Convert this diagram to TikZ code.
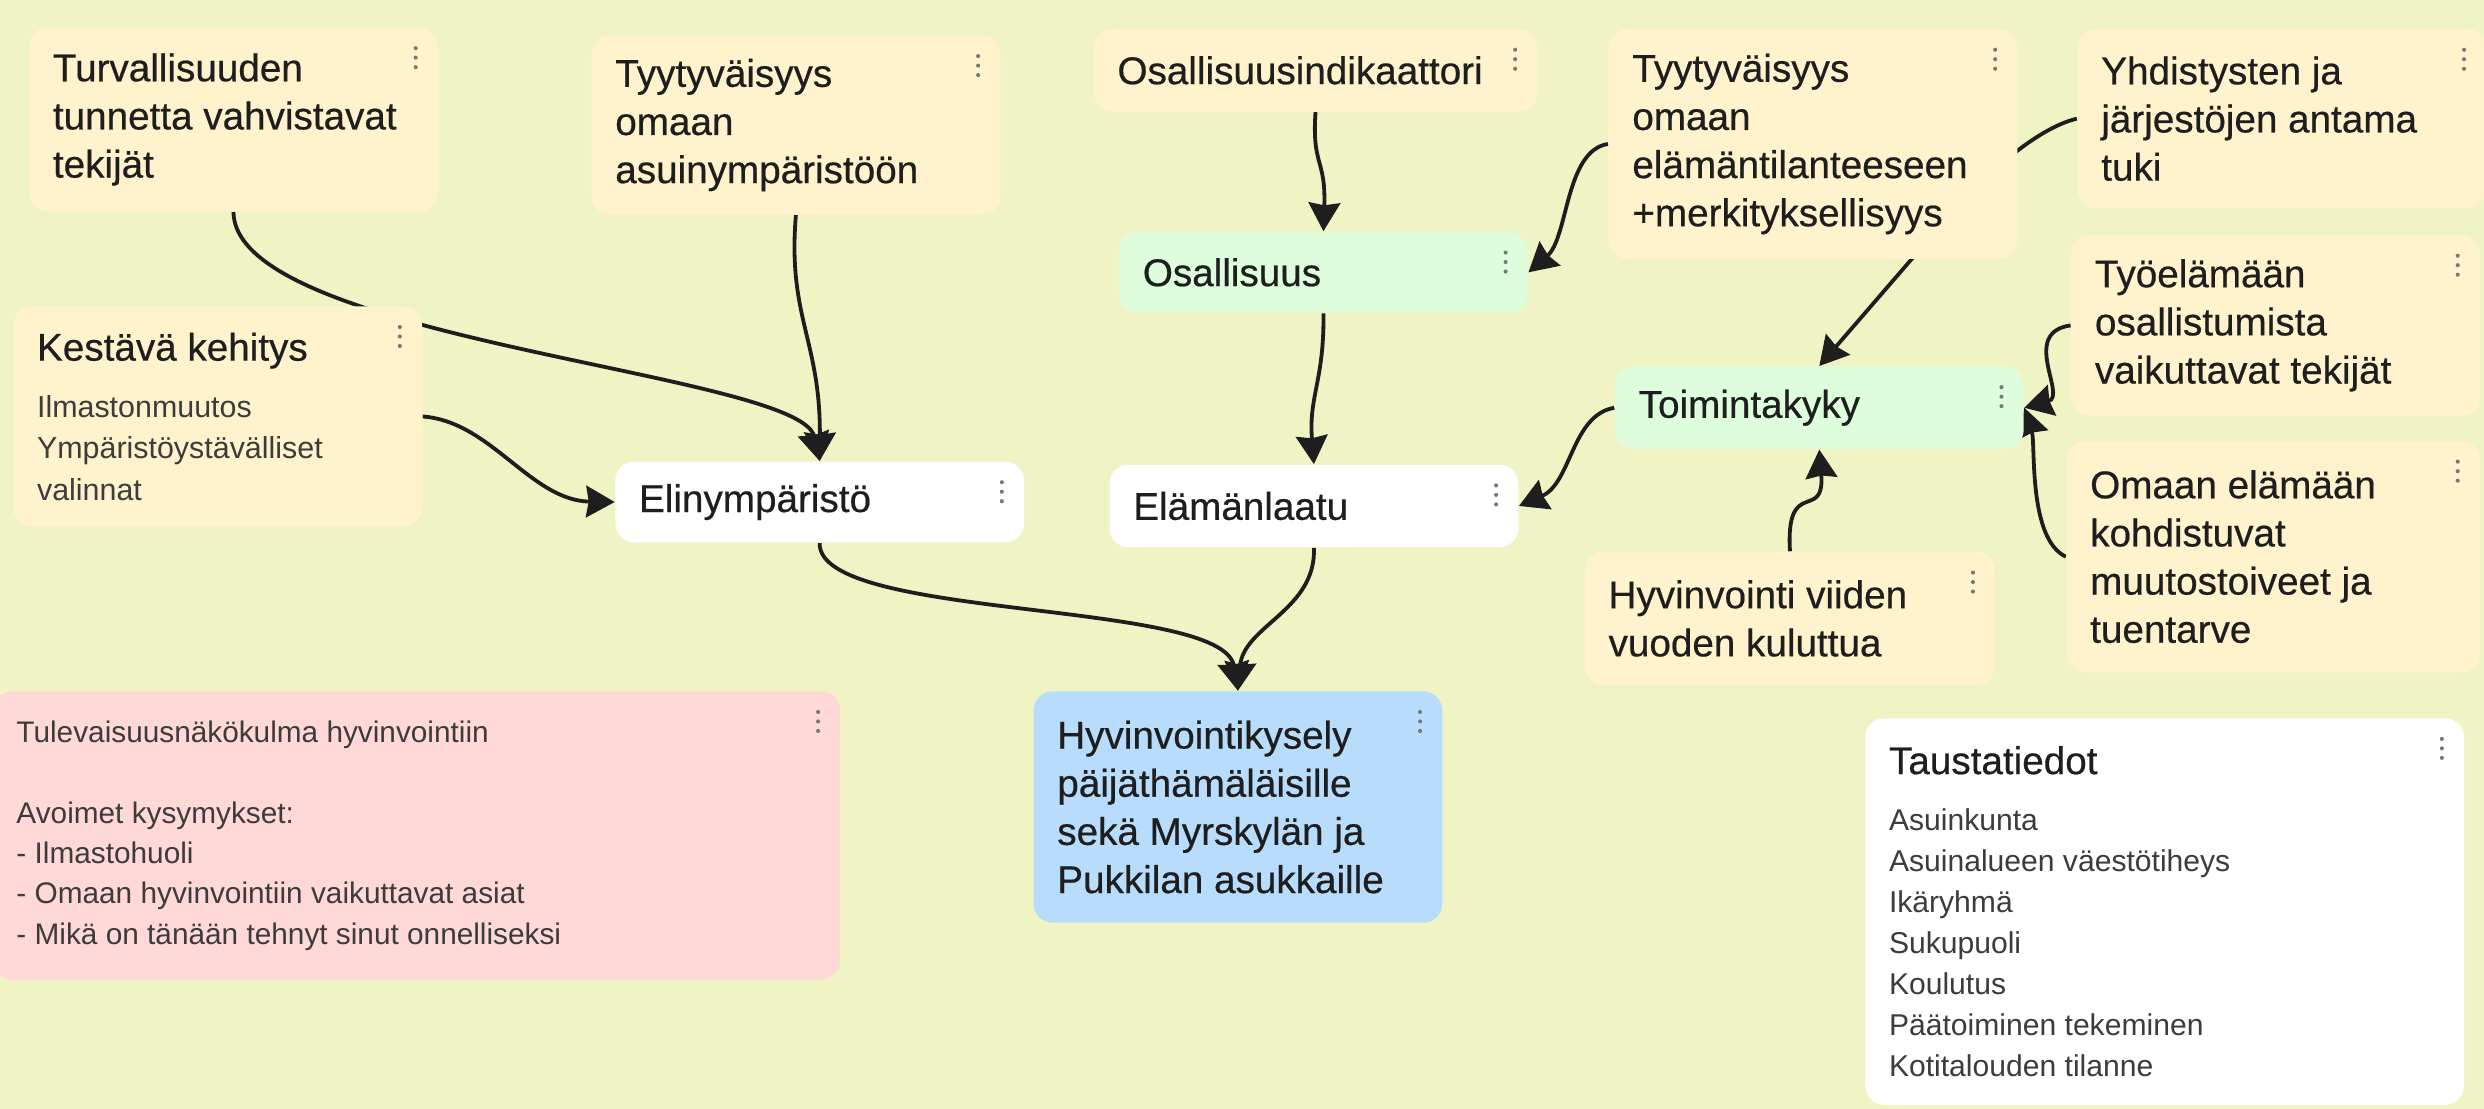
\documentclass[tikz,border=0pt]{standalone}
\usepackage{fontspec}
\setmainfont{Liberation Sans}
\newfontfamily\headfam{Liberation Sans}[FakeBold=0.5]
\usetikzlibrary{arrows.meta}
\definecolor{bgcol}{RGB}{240,244,196}
\definecolor{notecol}{RGB}{255,243,205}
\definecolor{greencol}{RGB}{221,253,221}
\definecolor{bluecol}{RGB}{184,221,252}
\definecolor{pinkcol}{RGB}{255,216,216}
\definecolor{inkcol}{RGB}{30,30,30}
\definecolor{subcol}{RGB}{60,60,60}
\definecolor{dotcol}{RGB}{120,120,120}
\newcommand\headfont{\headfam\fontsize{12.2}{15.2}\selectfont}
\newcommand\subfont[2]{\normalfont\fontsize{#1}{#2}\selectfont}
\newcommand\headline[1]{{\headfont\color{inkcol}#1}}
\pgfdeclarelayer{back}
\pgfsetlayers{back,main}
\begin{document}
\begin{tikzpicture}[x=0.5pt,y=-0.5pt,
  card/.style={rectangle,rounded corners=6pt,anchor=north west,align=flush left,inner xsep=7.5pt,inner ysep=0pt,
    text width=114pt,text=inkcol,font=\headfont,
    path picture={\foreach \d in {6.5,9.5,12.5} \fill[dotcol] ([xshift=-7pt,yshift=-\d pt]path picture bounding box.north east) circle (0.65pt);}},
  note/.style={card,fill=notecol},
  hub/.style={card,fill=greencol},
  plain/.style={card,fill=white},
  small/.style={text=subcol,font={\subfont#1}},
  link/.style={draw=inkcol,line width=1.2pt,-{Stealth[length=9pt,width=10pt,inset=0.8pt]}}]
  \useasboundingbox (0,0) rectangle (1568,700);
  \begin{pgfonlayer}{back}
    \fill[bgcol] (0,0) rectangle (1568,700);
  \end{pgfonlayer}
  \node[note,minimum height=58pt] (turv) at (18,17) {Turvallisuuden\\tunnetta vahvistavat\\tekijät};
  \node[note,minimum height=56.5pt] (asuin) at (373,22) {Tyytyväisyys\\omaan\\asuinympäristöön};
  \node[note,text width=125pt,minimum height=26pt] (osind) at (690,18) {Osallisuusindikaattori};
  \node[note,minimum height=72.5pt] (elama) at (1015,18) {Tyytyväisyys\\omaan\\elämäntilanteeseen\\+merkityksellisyys};
  \node[note,minimum height=56.5pt] (yhd) at (1311,18) {Yhdistysten ja\\järjestöjen antama\\tuki};
  \node[note,small={{9.6}{13}},minimum height=69.5pt] (kest) at (8,193) {\headline{Kestävä kehitys}\\[5pt]Ilmastonmuutos\\Ympäristöystävälliset\\valinnat};
  \node[plain,minimum height=25.5pt] (elin) at (388,291) {Elinympäristö};
  \node[hub,minimum height=25.5pt] (osal) at (706,146) {Osallisuus};
  \node[plain,minimum height=26pt] (laatu) at (700,293) {Elämänlaatu};
  \node[hub,minimum height=26pt] (toim) at (1019,231) {Toimintakyky};
  \node[note,minimum height=57pt] (tyo) at (1307,148) {Työelämään\\osallistumista\\vaikuttavat tekijät};
  \node[note,text width=115.5pt,minimum height=73pt] (muutos) at (1304,278) {Omaan elämään\\kohdistuvat\\muutostoiveet ja\\tuentarve};
  \node[note,text width=114.5pt,minimum height=42pt] (viisi) at (1000,348) {Hyvinvointi viiden\\vuoden kuluttua};
  \node[card,fill=pinkcol,small={{9.4}{12.75}},text width=252.5pt,minimum height=91pt] (tulev) at (-5,436) {Tulevaisuusnäkökulma hyvinvointiin\\[12.75pt]Avoimet kysymykset:\\- Ilmastohuoli\\- Omaan hyvinvointiin vaikuttavat asiat\\- Mikä on tänään tehnyt sinut onnelliseksi};
  \node[card,fill=bluecol,minimum height=73pt] (kysely) at (652,436) {Hyvinvointikysely\\päijäthämäläisille\\sekä Myrskylän ja\\Pukkilan asukkaille};
  \node[plain,small={{9.5}{12.95}},text width=174pt,minimum height=122pt] (taust) at (1177,453) {\headline{Taustatiedot}\\[4.85pt]Asuinkunta\\Asuinalueen väestötiheys\\Ikäryhmä\\Sukupuoli\\Koulutus\\Päätoiminen tekeminen\\Kotitalouden tilanne};
  \begin{pgfonlayer}{back}
    \draw[link] (turv.south) .. controls (148,215) and (505,235) .. (elin.north);
    \draw[link] (asuin.south) .. controls (497,200) and (518,215) .. (elin.north);
    \draw[link] (kest.east) .. controls (310,266) and (335,316) .. (elin.west);
    \draw[link] (elin.south) .. controls (516,392) and (772,378) .. (kysely.north);
    \draw[link] (laatu.south) .. controls (831,385) and (785,395) .. (kysely.north);
    \draw[link] (osind.south) .. controls (828,105) and (837,100) .. (osal.north);
    \draw[link] (osal.south) .. controls (836,240) and (826,250) .. (laatu.north);
    \draw[link] (elama.west) .. controls (988,95) and (990,150) .. (osal.east);
    \draw[link] (yhd.west) .. controls (1290,80) and (1265,100) .. (1240,125) -- (toim.north);
    \draw[link] (toim.west) .. controls (992,262) and (992,305) .. (laatu.east);
    \draw[link] (tyo.west) .. controls (1275,210) and (1305,250) .. (toim.east);
    \draw[link] (muutos.west) .. controls (1280,340) and (1285,280) .. (toim.east);
    \draw[link] (viisi.north) .. controls (1127,300) and (1152,330) .. (toim.south);
  \end{pgfonlayer}
\end{tikzpicture}
\end{document}
